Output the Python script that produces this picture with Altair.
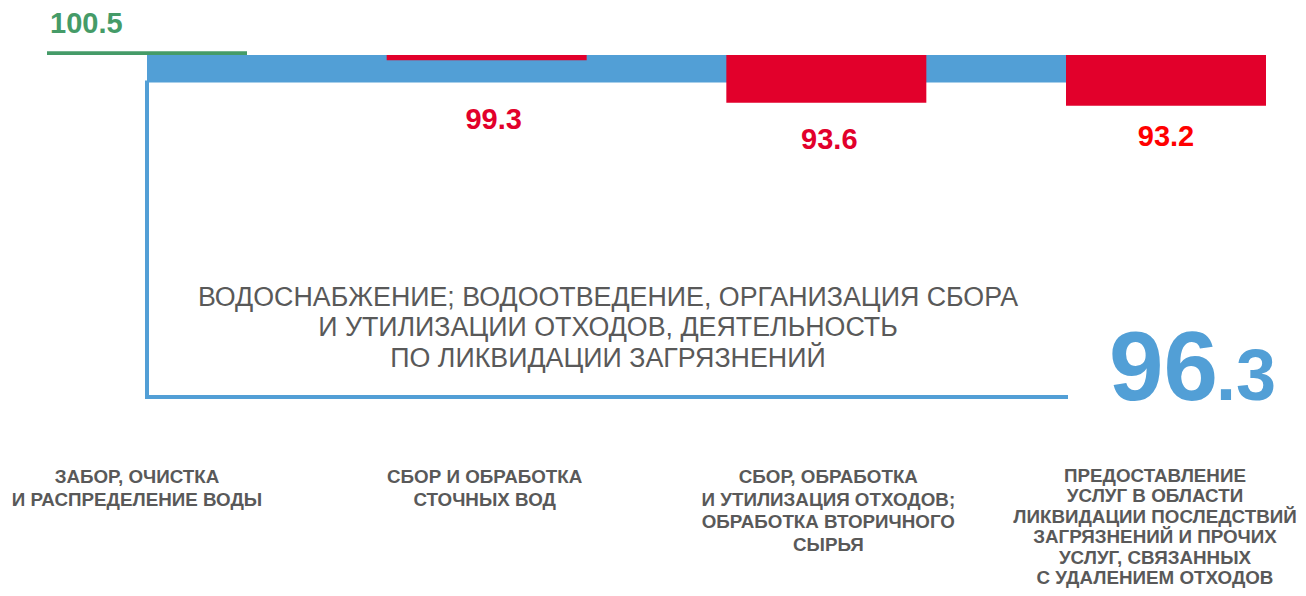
import altair as alt
import pandas as pd

# ---- data ----
categories = [
    "ЗАБОР, ОЧИСТКА\nИ РАСПРЕДЕЛЕНИЕ ВОДЫ",
    "СБОР И ОБРАБОТКА\nСТОЧНЫХ ВОД",
    "СБОР, ОБРАБОТКА\nИ УТИЛИЗАЦИЯ ОТХОДОВ;\nОБРАБОТКА ВТОРИЧНОГО\nСЫРЬЯ",
    "ПРЕДОСТАВЛЕНИЕ\nУСЛУГ В ОБЛАСТИ\nЛИКВИДАЦИИ ПОСЛЕДСТВИЙ\nЗАГРЯЗНЕНИЙ И ПРОЧИХ\nУСЛУГ, СВЯЗАННЫХ\nС УДАЛЕНИЕМ ОТХОДОВ",
]
values = [100.5, 99.3, 93.6, 93.2]
value_labels = ["100.5", "99.3", "93.6", "93.2"]
base_value = 100
total_value = 96.3
total_label = "96.3"
title_lines = [
    "ВОДОСНАБЖЕНИЕ; ВОДООТВЕДЕНИЕ, ОРГАНИЗАЦИЯ СБОРА",
    "И УТИЛИЗАЦИИ ОТХОДОВ, ДЕЯТЕЛЬНОСТЬ",
    "ПО ЛИКВИДАЦИИ ЗАГРЯЗНЕНИЙ",
]

# ---- styles ----
W, H = 1290, 580
FONT = "Liberation Sans"
BLUE = "#529FD6"
GREEN = "#459B68"
RED = "#E2002B"
GREY = "#595959"
HALF = 0.2944  # half bar width in category units

xs = alt.Scale(domain=[0, 3], range=[139, 1158], nice=False, zero=False)
ys = alt.Scale(domain=[90, 100], range=[121.5, 47], nice=False, zero=False)

n = len(categories)
df = pd.DataFrame({
    "idx": list(range(n)),
    "cat": categories,
    "value": values,
    "label": value_labels,
    "base": [base_value] * n,
})
df["lo"] = df["idx"] - HALF
df["hi"] = df["idx"] + HALF
df["dir"] = ["up" if v >= base_value else "down" for v in values]

band_df = pd.DataFrame({
    "x0": [0], "x1": [n - 1 - HALF],
    "y0": [base_value], "y1": [total_value],
})

band = alt.Chart(band_df).mark_rect(color=BLUE).encode(
    x=alt.X("x0:Q", scale=xs, axis=None),
    x2="x1:Q",
    y=alt.Y("y0:Q", scale=ys, axis=None),
    y2="y1:Q",
)

vline = alt.Chart(band_df).mark_rule(color=BLUE, strokeWidth=4, strokeCap="square").encode(
    x=alt.X("x0:Q", scale=xs, axis=None),
    y=alt.Y("y1:Q", scale=ys, axis=None),
    y2=alt.value(387),
)
hline = alt.Chart(band_df).mark_rule(color=BLUE, strokeWidth=4, strokeCap="square").encode(
    x=alt.X("x0:Q", scale=xs, axis=None),
    x2="x1:Q",
    y=alt.value(389),
)

bars = alt.Chart(df).mark_bar().encode(
    x=alt.X("lo:Q", scale=xs, axis=None),
    x2="hi:Q",
    y=alt.Y("base:Q", scale=ys, axis=None),
    y2="value:Q",
    color=alt.Color("dir:N", scale=alt.Scale(domain=["up", "down"], range=[GREEN, RED]), legend=None),
)

# value labels
label_styles = [
    dict(align="left", dx=3, dy=-27.7, color=GREEN, xfield="lo"),
    dict(align="center", dx=7, dy=59.4, color=RED, xfield="idx"),
    dict(align="center", dx=3, dy=36.9, color=RED, xfield="idx"),
    dict(align="center", dx=0, dy=30.9, color="#FF0000", xfield="idx"),
]
label_layers = []
for i, st in enumerate(label_styles):
    label_layers.append(
        alt.Chart(df.iloc[[i]]).mark_text(
            align=st["align"], baseline="middle", dx=st["dx"], dy=st["dy"],
            color=st["color"], font=FONT, fontSize=29, fontWeight="bold",
        ).encode(
            x=alt.X(f"{st['xfield']}:Q", scale=xs, axis=None),
            y=alt.Y("value:Q", scale=ys, axis=None),
            text="label:N",
        )
    )

# category labels (small horizontal nudges / line spacing per label)
cat_dx = [-10, -2, 2, -11]
cat_lh = [22.6, 22.6, 22.6, 20.4]
cat_top = [460, 460, 460, 459]
cat_layers = []
for i, (d, lh, top) in enumerate(zip(cat_dx, cat_lh, cat_top)):
    cat_layers.append(
        alt.Chart(df.iloc[[i]]).mark_text(
            align="center", baseline="top", lineBreak="\n", lineHeight=lh, dx=d,
            color=GREY, font=FONT, fontSize=18.8, fontWeight="bold",
        ).encode(
            x=alt.X("idx:Q", scale=xs, axis=None),
            y=alt.value(top),
            text="cat:N",
        )
    )

title_df = pd.DataFrame({"t": ["\n".join(title_lines)]})
title_text = alt.Chart(title_df).mark_text(
    align="center", baseline="top", lineBreak="\n", lineHeight=30.5,
    color=GREY, font=FONT, fontSize=26.8,
).encode(x=alt.value(600), y=alt.value(276.5), text="t:N")

int_part, dec_part = total_label.split(".")
tot_df = pd.DataFrame({"a": [int_part], "b": ["." + dec_part]})
big1 = alt.Chart(tot_df).mark_text(
    align="right", baseline="alphabetic", color=BLUE, font=FONT, fontSize=98, fontWeight="bold",
).encode(x=alt.value(1210), y=alt.value(392), text="a:N")
big2 = alt.Chart(tot_df).mark_text(
    align="left", baseline="alphabetic", color=BLUE, font=FONT, fontSize=72, fontWeight="bold",
).encode(x=alt.value(1208), y=alt.value(392), text="b:N")

chart = alt.layer(
    band, vline, hline, bars, *label_layers, *cat_layers, title_text, big1, big2
).properties(
    width=W, height=H, padding=0, autosize=alt.AutoSizeParams(type="none"),
    background="white",
).configure_view(stroke=None)

chart.save("out.html", embed_options={"renderer": "svg", "actions": False})
